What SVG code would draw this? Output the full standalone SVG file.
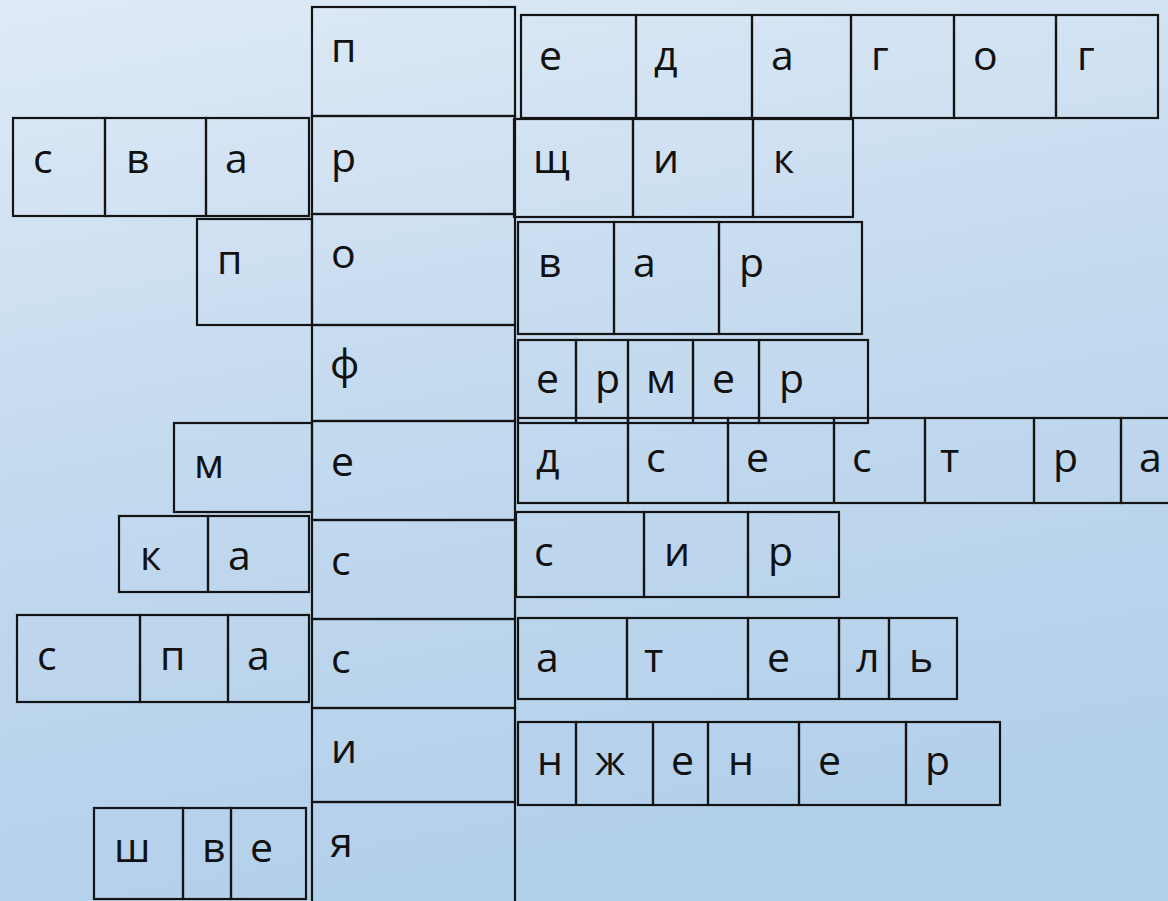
<svg xmlns="http://www.w3.org/2000/svg" width="1168" height="901" viewBox="0 0 1168 901">
<defs>
<linearGradient id="bg" x1="0" y1="0" x2="0.25" y2="1">
<stop offset="0" stop-color="#dfeaf6"/>
<stop offset="0.5" stop-color="#c4daef"/>
<stop offset="1" stop-color="#b3d0eb"/>
</linearGradient>
<style>
.c{fill:none;stroke:#141414;stroke-width:2.2}
text{font-family:"Open Sans","Noto Sans","DejaVu Sans",sans-serif;font-size:41px;fill:#111}
</style>
</defs>
<rect x="0" y="0" width="1168" height="901" fill="url(#bg)"/>

<g id="center-column">
<rect class="c" x="312" y="7" width="203" height="109"/>
<rect class="c" x="312" y="116" width="203" height="98"/>
<rect class="c" x="312" y="214" width="203" height="111"/>
<rect class="c" x="312" y="325" width="203" height="96"/>
<rect class="c" x="312" y="421" width="203" height="99"/>
<rect class="c" x="312" y="520" width="203" height="99"/>
<rect class="c" x="312" y="619" width="203" height="89"/>
<rect class="c" x="312" y="708" width="203" height="94"/>
<rect class="c" x="312" y="802" width="203" height="110"/>
<text x="331" y="62">п</text>
<text x="331" y="172">р</text>
<text x="331" y="268">о</text>
<text x="330" y="378">ф</text>
<text x="331" y="476">е</text>
<text x="331" y="575">с</text>
<text x="331" y="673">с</text>
<text x="331" y="763">и</text>
<text x="330" y="857">я</text>
</g>

<g id="w-svar">
<rect class="c" x="13" y="118" width="92" height="98"/>
<rect class="c" x="105" y="118" width="101" height="98"/>
<rect class="c" x="206" y="118" width="103" height="98"/>
<text x="33" y="173">с</text>
<text x="126" y="173">в</text>
<text x="225" y="173">а</text>
</g>

<g id="w-p">
<rect class="c" x="197" y="219" width="115" height="106"/>
<text x="217" y="274">п</text>
</g>

<g id="w-m">
<rect class="c" x="174" y="423" width="138" height="89"/>
<text x="194" y="478">м</text>
</g>

<g id="w-ka">
<rect class="c" x="119" y="516" width="89" height="76"/>
<rect class="c" x="208" y="516" width="101" height="76"/>
<text x="140" y="570">к</text>
<text x="228" y="570">а</text>
</g>

<g id="w-spa">
<rect class="c" x="17" y="615" width="123" height="87"/>
<rect class="c" x="140" y="615" width="88" height="87"/>
<rect class="c" x="228" y="615" width="81" height="87"/>
<text x="37" y="670">с</text>
<text x="160" y="670">п</text>
<text x="247" y="670">а</text>
</g>

<g id="w-shve">
<rect class="c" x="94" y="808" width="89" height="91"/>
<rect class="c" x="183" y="808" width="48" height="91"/>
<rect class="c" x="231" y="808" width="75" height="91"/>
<text x="114" y="862">ш</text>
<text x="202" y="862">в</text>
<text x="250" y="862">е</text>
</g>

<g id="w-edagog">
<rect class="c" x="521" y="15" width="115" height="103"/>
<rect class="c" x="636" y="15" width="116" height="103"/>
<rect class="c" x="752" y="15" width="99" height="103"/>
<rect class="c" x="851" y="15" width="103" height="103"/>
<rect class="c" x="954" y="15" width="102" height="103"/>
<rect class="c" x="1056" y="15" width="102" height="103"/>
<text x="539" y="70">е</text>
<text x="654" y="70">д</text>
<text x="771" y="70">а</text>
<text x="871" y="70">г</text>
<text x="973" y="70">о</text>
<text x="1077" y="70">г</text>
</g>

<g id="w-shchik">
<rect class="c" x="514" y="119" width="119" height="98"/>
<rect class="c" x="633" y="119" width="120" height="98"/>
<rect class="c" x="753" y="119" width="100" height="98"/>
<text x="533" y="173">щ</text>
<text x="653" y="173">и</text>
<text x="773" y="173">к</text>
</g>

<g id="w-var">
<rect class="c" x="518" y="222" width="96" height="112"/>
<rect class="c" x="614" y="222" width="105" height="112"/>
<rect class="c" x="719" y="222" width="143" height="112"/>
<text x="538" y="277">в</text>
<text x="633" y="277">а</text>
<text x="739" y="277">р</text>
</g>

<g id="w-ermer">
<rect class="c" x="518" y="340" width="58" height="83"/>
<rect class="c" x="576" y="340" width="52" height="83"/>
<rect class="c" x="628" y="340" width="65" height="83"/>
<rect class="c" x="693" y="340" width="66" height="83"/>
<rect class="c" x="759" y="340" width="109" height="83"/>
<text x="536" y="393">е</text>
<text x="595" y="393">р</text>
<text x="646" y="393">м</text>
<text x="712" y="393">е</text>
<text x="779" y="393">р</text>
</g>

<g id="w-dsestra">
<rect class="c" x="518" y="418" width="110" height="85"/>
<rect class="c" x="628" y="418" width="100" height="85"/>
<rect class="c" x="728" y="418" width="106" height="85"/>
<rect class="c" x="834" y="418" width="91" height="85"/>
<rect class="c" x="925" y="418" width="109" height="85"/>
<rect class="c" x="1034" y="418" width="87" height="85"/>
<rect class="c" x="1121" y="418" width="60" height="85"/>
<text x="536" y="472">д</text>
<text x="646" y="472">с</text>
<text x="746" y="472">е</text>
<text x="852" y="472">с</text>
<text x="940" y="472">т</text>
<text x="1053" y="472">р</text>
<text x="1139" y="472">а</text>
</g>

<g id="w-sir">
<rect class="c" x="516" y="512" width="128" height="85"/>
<rect class="c" x="644" y="512" width="104" height="85"/>
<rect class="c" x="748" y="512" width="91" height="85"/>
<text x="534" y="566">с</text>
<text x="664" y="566">и</text>
<text x="768" y="566">р</text>
</g>

<g id="w-atel">
<rect class="c" x="518" y="618" width="109" height="81"/>
<rect class="c" x="627" y="618" width="121" height="81"/>
<rect class="c" x="748" y="618" width="91" height="81"/>
<rect class="c" x="839" y="618" width="50" height="81"/>
<rect class="c" x="889" y="618" width="68" height="81"/>
<text x="536" y="672">а</text>
<text x="644" y="672">т</text>
<text x="767" y="672">е</text>
<text x="856" y="672">л</text>
<text x="909" y="672">ь</text>
</g>

<g id="w-nzhener">
<rect class="c" x="518" y="722" width="58" height="83"/>
<rect class="c" x="576" y="722" width="77" height="83"/>
<rect class="c" x="653" y="722" width="55" height="83"/>
<rect class="c" x="708" y="722" width="91" height="83"/>
<rect class="c" x="799" y="722" width="107" height="83"/>
<rect class="c" x="906" y="722" width="94" height="83"/>
<text x="537" y="775">н</text>
<text x="595" y="775">ж</text>
<text x="671" y="775">е</text>
<text x="728" y="775">н</text>
<text x="818" y="775">е</text>
<text x="925" y="775">р</text>
</g>
</svg>
